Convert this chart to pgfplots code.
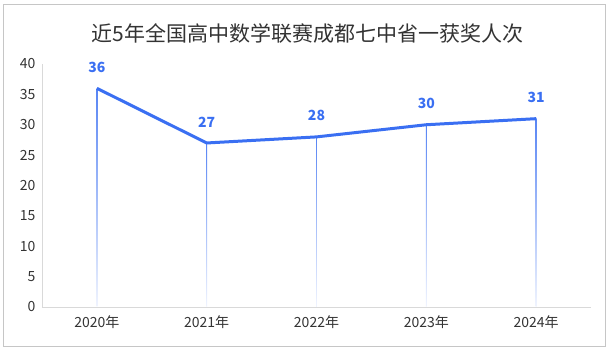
\documentclass[border=0pt]{standalone}
\usepackage{fontspec}
\setmainfont{Noto Sans CJK SC}
\usepackage{pgfplots}
\pgfplotsset{compat=1.18}
\definecolor{lineblue}{HTML}{3A6FF2}
\definecolor{txt}{HTML}{333333}
\definecolor{axgray}{HTML}{D9D9D9}
\definecolor{paleblue}{HTML}{F0F4FE}
\begin{document}
\begin{tikzpicture}[x=1pt,y=1pt]
\path[use as bounding box] (0,0) rectangle (613,351);
\draw[color=gray!45, line width=0.8pt] (3,5) rectangle (605,347);
\node[text=txt, font=\fontsize{21}{24}\selectfont] at (307.5,318) {近5年全国高中数学联赛成都七中省一获奖人次};
\begin{axis}[
  at={(42pt,44pt)}, anchor=south west,
  scale only axis, width=549pt, height=243pt,
  xmin=-0.5, xmax=4.5, ymin=0, ymax=40,
  axis lines=left,
  axis line style={draw=axgray, line width=0.8pt, -},
  ytick={0,5,...,40},
  xtick={0,1,2,3,4},
  xticklabels={2020年,2021年,2022年,2023年,2024年},
  major tick length=0pt,
  tick label style={text=txt, font=\fontsize{14}{16}\selectfont},
  /pgf/number format/assume math mode=true,
  yticklabel style={xshift=-3pt},
  xticklabel style={yshift=-5pt},
  clip=false,
]
\addplot[ybar, bar shift=0pt, bar width=0.8pt, draw=none, top color=lineblue!85, bottom color=paleblue] coordinates {(0,36)};
\addplot[ybar, bar shift=0pt, bar width=0.8pt, draw=none, top color=lineblue!85, bottom color=paleblue] coordinates {(1,27)};
\addplot[ybar, bar shift=0pt, bar width=0.8pt, draw=none, top color=lineblue!85, bottom color=paleblue] coordinates {(2,28)};
\addplot[ybar, bar shift=0pt, bar width=0.8pt, draw=none, top color=lineblue!85, bottom color=paleblue] coordinates {(3,30)};
\addplot[ybar, bar shift=0pt, bar width=0.8pt, draw=none, top color=lineblue!85, bottom color=paleblue] coordinates {(4,31)};
\addplot[color=lineblue, line width=3pt, mark=none,
  nodes near coords,
  every node near coord/.append style={anchor=center, yshift=21pt, text=lineblue, font=\fontsize{14}{16}\selectfont\bfseries}]
  coordinates {(0,36) (1,27) (2,28) (3,30) (4,31)};
\end{axis}
\end{tikzpicture}
\end{document}
